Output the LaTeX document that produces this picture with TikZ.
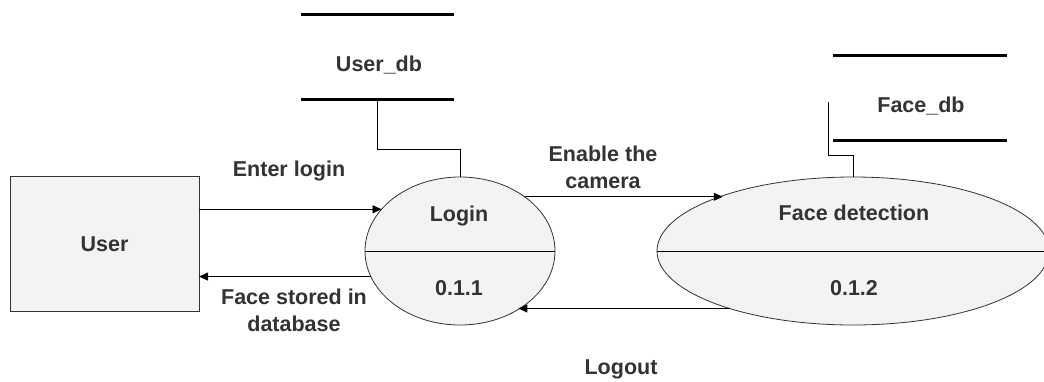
\documentclass[tikz,border=0pt]{standalone}
\usepackage{fontspec}
\setmainfont{Liberation Sans}
\usetikzlibrary{arrows.meta,shapes.geometric}
\definecolor{ink}{HTML}{333333}
\definecolor{paper}{HTML}{F3F3F3}
\begin{document}
\begin{tikzpicture}[x=1pt,y=-1pt,
  lbl/.style={text=ink,font=\fontsize{21.5pt}{27pt}\selectfont\bfseries,inner sep=0pt,outer sep=0pt,align=center},
  one/.style={lbl,text height=15.4pt,text depth=0pt},
  proc/.style={ellipse,draw=black!80,fill=paper,inner sep=0pt,outer sep=0pt,line width=0.8pt},
  ent/.style={rectangle,draw=black!80,fill=paper,inner sep=0pt,outer sep=0pt,line width=0.8pt},
  storebox/.style={rectangle,draw=none,inner sep=0pt,outer sep=0pt},
  flow/.style={line width=0.9pt,-{Triangle[length=9pt,width=8pt]}},
  link/.style={line width=0.9pt},
  bar/.style={line width=3pt}]
\useasboundingbox[fill=white] (0,0) rectangle (1044,381);

% external entity
\node[ent,minimum width=189pt,minimum height=135pt,one] (user) at (104.5,243.5) {User};

% processes
\node[proc,minimum width=190pt,minimum height=148pt] (login) at (460,251) {};
\draw[link] (login.west) -- (login.east);
\node[one] (loginname) at (459,214) {Login};
\node[one] (loginid) at (459,288) {0.1.1};

\node[proc,minimum width=392pt,minimum height=148pt] (face) at (853,251) {};
\draw[link] (face.west) -- (face.east);
\node[one] (facename) at (854,213) {Face detection};
\node[one] (faceid) at (854,288) {0.1.2};

% data stores
\node[storebox,minimum width=153pt,minimum height=85pt] (userdb) at (377.5,56.5) {};
\draw[bar] (userdb.north west) -- (userdb.north east);
\draw[bar] (userdb.south west) -- (userdb.south east);
\node[one] (userdbname) at (379,64) {User\_db};

\node[storebox,minimum width=174pt,minimum height=85pt] (facedb) at (920,97.5) {};
\draw[bar] (facedb.north west) -- (facedb.north east);
\draw[bar] (facedb.south west) -- (facedb.south east);
\node[one] (facedbname) at (921,105) {Face\_db};

% store links
\draw[link] (userdb.south) -- ++(0,50) -| (login.north);
\draw[link] ([shift={(-5,4.5)}]facedb.west) -- ++(0,53) -| (face.north);

% data flows
\draw[flow] (login.152.6 -| user.east) -- (login.152.6);
\draw[flow] (login.196.3) -- (login.196.3 -| user.east);
\draw[flow] (login.40.85) -- (login.40.85 -| face.157.2);
\draw[flow] (face.205.5) -- (face.205.5 -| login.315.5);

% flow labels
\node[one] (enterlbl) at (289,169) {Enter login};
\node[lbl] (storedlbl) at (294,310) {Face stored in\\database};
\node[lbl] (cameralbl) at (603,167) {Enable the\\camera};
\node[one] (logoutlbl) at (621,367) {Logout};
\end{tikzpicture}
\end{document}
